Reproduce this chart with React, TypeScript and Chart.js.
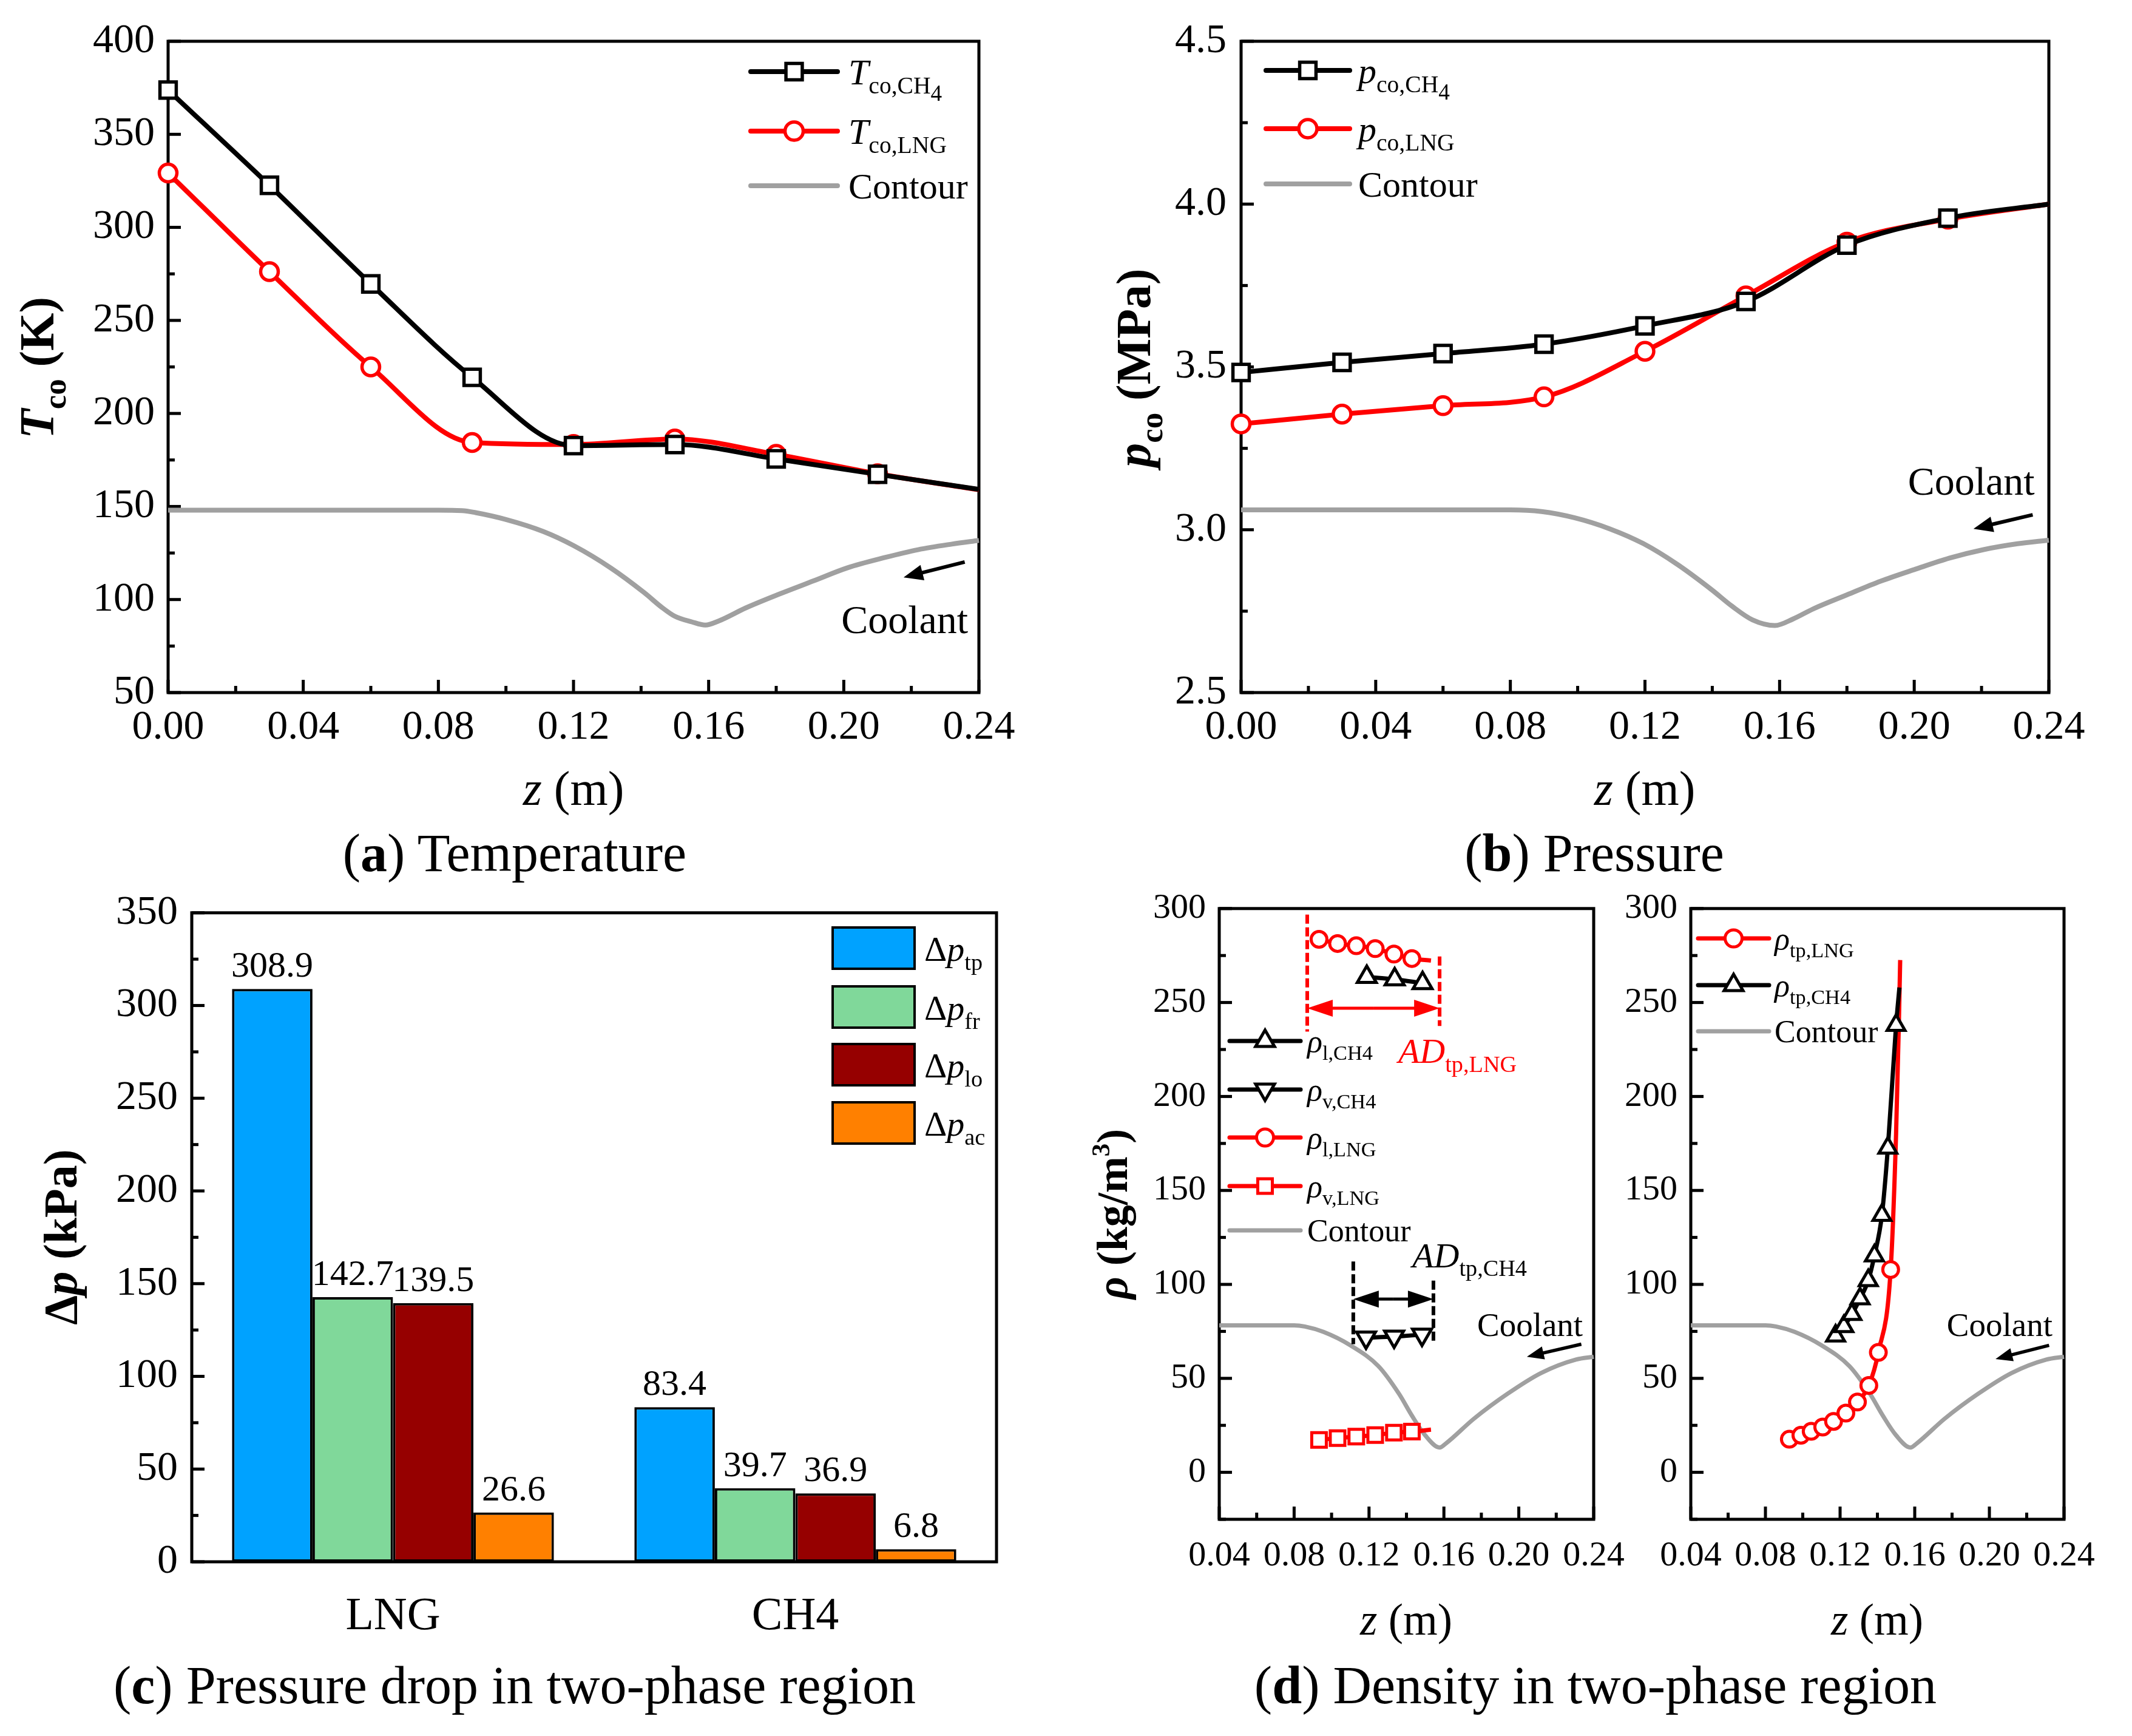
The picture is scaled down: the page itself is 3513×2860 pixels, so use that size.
import React, { useEffect, useRef } from "react";
import { Chart, registerables } from "chart.js";

Chart.register(...registerables);

const SERIF = '"Liberation Serif", "Times New Roman", Times, serif';
const GRAY = "#A0A0A0";
const RED = "#FF0000";
const BLACK = "#000000";

// ---------------- (a) Temperature ----------------
const zMarkA = [0, 0.03, 0.06, 0.09, 0.12, 0.15, 0.18, 0.21, 0.24];
const markFlagsA = [1, 1, 1, 1, 1, 1, 1, 1, 0];
const tempCH4 = [373.8, 322.6, 269.6, 219.4, 182.7, 183.3, 175.6, 167.3, 159.2];
const tempLNG = [329.2, 276.2, 225.0, 184.4, 183.3, 186.3, 178.0, 167.6, 159.0];
const zContourA = [0, 0.04, 0.08, 0.087, 0.091, 0.1, 0.111, 0.12, 0.131, 0.141, 0.146, 0.15, 0.155, 0.159, 0.163, 0.171, 0.181, 0.191, 0.201, 0.212, 0.222, 0.232, 0.24];
const tempContour = [148, 148, 148, 147.8, 146.7, 143, 136.6, 129, 117, 103.6, 96, 91, 88, 86.3, 88.5, 95.5, 103, 110, 117, 122.5, 126.8, 129.8, 131.8];

// ---------------- (b) Pressure ----------------
const zMarkB = [0, 0.03, 0.06, 0.09, 0.12, 0.15, 0.18, 0.21, 0.24];
const markFlagsB = [1, 1, 1, 1, 1, 1, 1, 1, 0];
const presCH4 = [3.483, 3.514, 3.541, 3.57, 3.626, 3.701, 3.874, 3.957, 4.0];
const presLNG = [3.325, 3.355, 3.381, 3.408, 3.548, 3.718, 3.883, 3.954, 4.0];
const zContourB = [0, 0.04, 0.08, 0.0893, 0.099, 0.1095, 0.1196, 0.1297, 0.1398, 0.1459, 0.152, 0.1586, 0.164, 0.17, 0.18, 0.19, 0.2004, 0.2105, 0.2206, 0.2307, 0.24];
const presContour = [3.061, 3.061, 3.061, 3.056, 3.037, 3.003, 2.957, 2.893, 2.816, 2.765, 2.723, 2.706, 2.726, 2.757, 2.8, 2.842, 2.879, 2.913, 2.939, 2.957, 2.968];

// ---------------- (c) Pressure drop ----------------
const fluids = ["LNG", "CH4"];
const dpTp = [308.9, 83.4];
const dpFr = [142.7, 39.7];
const dpLo = [139.5, 36.9];
const dpAc = [26.6, 6.8];

// ---------------- (d) Density ----------------
const yTicksD = [0, 50, 100, 150, 200, 250, 300];
const zLng = [0.0933, 0.1032, 0.1132, 0.1233, 0.1333, 0.1429, 0.1531];
const lngFlags = [1, 1, 1, 1, 1, 1, 0];
const rhoLiqLNG = [283.6, 281.4, 280.2, 278.7, 275.8, 273.4, 272.3];
const rhoVapLNG = [17.2, 18.2, 19.0, 19.8, 21.1, 21.7, 22.7];
const zCh4Liq = [0.1188, 0.1337, 0.1486];
const rhoLiqCH4 = [263.6, 262.3, 260.3];
const zCh4Vap = [0.1184, 0.1334, 0.1483];
const rhoVapCH4 = [71.7, 72.2, 73.3];
const zContourD = [0.04, 0.06, 0.08, 0.0857, 0.0957, 0.11, 0.125, 0.136, 0.143, 0.15, 0.1577, 0.161, 0.176, 0.194, 0.212, 0.2305, 0.24];
const rhoContour = [78.2, 78.2, 78.2, 77.6, 74.7, 67.6, 56.5, 41.8, 30, 19.7, 13.2, 15.3, 28.5, 41.8, 52.9, 60, 61.5];
const zTpLNG = [0.0928, 0.099, 0.1045, 0.1107, 0.1165, 0.1231, 0.1293, 0.1354, 0.1405, 0.1471, 0.15, 0.1515, 0.1522];
const tpLngFlags = [1, 1, 1, 1, 1, 1, 1, 1, 1, 1, 0, 0, 0];
const rhoTpLNG = [17.6, 19.7, 21.8, 24.1, 27.1, 31.5, 37.4, 46.2, 63.8, 107.9, 180, 239, 272.6];
const zTpCH4 = [0.1176, 0.122, 0.1263, 0.1307, 0.1351, 0.1384, 0.1424, 0.1456, 0.15, 0.1518];
const tpCh4Flags = [1, 1, 1, 1, 1, 1, 1, 1, 1, 0];
const rhoTpCH4 = [72.6, 77.6, 84.1, 92.4, 102.1, 115.3, 136.8, 172.6, 237.9, 258];

// ---------------- rich text helpers ----------------
type Seg = { t: string; i?: boolean; b?: boolean; lv?: number };

function segSize(s: Seg, F: number) {
  if (s.lv === 1) return F * 0.66;
  if (s.lv === 2) return F * 0.62;
  if (s.lv === -1) return F * 0.6;
  return F;
}
function segDy(s: Seg, F: number) {
  if (s.lv === 1) return F * 0.25;
  if (s.lv === 2) return F * 0.45;
  if (s.lv === -1) return -F * 0.4;
  return 0;
}
function setSegFont(ctx: CanvasRenderingContext2D, s: Seg, F: number) {
  ctx.font = `${s.i ? "italic " : ""}${s.b ? "bold " : ""}${segSize(s, F)}px ${SERIF}`;
}
function drawRich(ctx: CanvasRenderingContext2D, segs: Seg[], x: number, y: number, F: number, color: string, align: string = "left") {
  ctx.save();
  ctx.fillStyle = color;
  ctx.textBaseline = "alphabetic";
  ctx.textAlign = "left";
  let w = 0;
  for (const s of segs) {
    setSegFont(ctx, s, F);
    w += ctx.measureText(s.t).width;
  }
  let cx = align === "center" ? x - w / 2 : align === "right" ? x - w : x;
  for (const s of segs) {
    setSegFont(ctx, s, F);
    ctx.fillText(s.t, cx, y + segDy(s, F));
    cx += ctx.measureText(s.t).width;
  }
  ctx.restore();
}
function drawRichRot(ctx: CanvasRenderingContext2D, segs: Seg[], cx: number, cy: number, F: number, color: string) {
  ctx.save();
  ctx.translate(cx, cy);
  ctx.rotate(-Math.PI / 2);
  drawRich(ctx, segs, 0, F * 0.3, F, color, "center");
  ctx.restore();
}

function drawMarker(ctx: CanvasRenderingContext2D, style: string, x: number, y: number, r: number, color: string, rot = 0, bw = 5) {
  ctx.save();
  ctx.beginPath();
  if (style === "rect") {
    const h = r * Math.SQRT1_2;
    ctx.rect(x - h, y - h, 2 * h, 2 * h);
  } else if (style === "circle") {
    ctx.arc(x, y, r, 0, Math.PI * 2);
  } else if (style === "triangle") {
    let a = (rot * Math.PI) / 180;
    for (let k = 0; k < 3; k++) {
      const px = x + Math.sin(a) * r;
      const py = y - Math.cos(a) * r;
      if (k === 0) ctx.moveTo(px, py);
      else ctx.lineTo(px, py);
      a += (2 * Math.PI) / 3;
    }
    ctx.closePath();
  }
  ctx.fillStyle = "#FFFFFF";
  ctx.fill();
  ctx.lineWidth = bw;
  ctx.strokeStyle = color;
  ctx.stroke();
  ctx.restore();
}

function legendLine(ctx: CanvasRenderingContext2D, x1: number, x2: number, y: number, color: string, lw: number, style?: string, r = 0, rot = 0, bw = 5) {
  ctx.save();
  ctx.strokeStyle = color;
  ctx.lineWidth = lw;
  ctx.lineCap = "round";
  ctx.beginPath();
  ctx.moveTo(x1, y);
  ctx.lineTo(x2, y);
  ctx.stroke();
  ctx.restore();
  if (style) drawMarker(ctx, style, (x1 + x2) / 2, y, r, color, rot, bw);
}

function drawArrow(ctx: CanvasRenderingContext2D, x1: number, y1: number, x2: number, y2: number, color: string, lw: number, hl: number, hw: number) {
  const ang = Math.atan2(y2 - y1, x2 - x1);
  const c = Math.cos(ang), s = Math.sin(ang);
  const bx = x2 - hl * c, by = y2 - hl * s;
  ctx.save();
  ctx.strokeStyle = color;
  ctx.fillStyle = color;
  ctx.lineWidth = lw;
  ctx.beginPath();
  ctx.moveTo(x1, y1);
  ctx.lineTo(bx + 2 * c, by + 2 * s);
  ctx.stroke();
  ctx.beginPath();
  ctx.moveTo(x2, y2);
  ctx.lineTo(bx - hw * s, by + hw * c);
  ctx.lineTo(bx + hw * s, by - hw * c);
  ctx.closePath();
  ctx.fill();
  ctx.restore();
}

function dashedV(ctx: CanvasRenderingContext2D, x: number, y1: number, y2: number, color: string) {
  ctx.save();
  ctx.strokeStyle = color;
  ctx.lineWidth = 6;
  ctx.setLineDash([15, 6]);
  ctx.beginPath();
  ctx.moveTo(x, y1);
  ctx.lineTo(x, y2);
  ctx.stroke();
  ctx.restore();
}

// ---------------- frame/ticks ----------------
type TickSpec = { start: number; major: number; minor: number } | null;

function drawFrame(chart: any, xt: TickSpec, yt: TickSpec) {
  const { ctx, chartArea: a } = chart;
  const xs = chart.scales.x, ys = chart.scales.y;
  ctx.save();
  ctx.strokeStyle = BLACK;
  ctx.lineWidth = 5;
  ctx.lineCap = "butt";
  if (xt) {
    const n = Math.round((xs.max - xt.start) / xt.minor);
    for (let k = 0; k <= n; k++) {
      const v = xt.start + k * xt.minor;
      const q = v / xt.major;
      const major = Math.abs(q - Math.round(q)) < 1e-6;
      const px = xs.getPixelForValue(v);
      ctx.beginPath();
      ctx.moveTo(px, a.bottom);
      ctx.lineTo(px, a.bottom - (major ? 21 : 11));
      ctx.stroke();
    }
  }
  if (yt) {
    const n = Math.round((ys.max - yt.start) / yt.minor);
    for (let k = 0; k <= n; k++) {
      const v = yt.start + k * yt.minor;
      const q = v / yt.major;
      const major = Math.abs(q - Math.round(q)) < 1e-6;
      const py = ys.getPixelForValue(v);
      ctx.beginPath();
      ctx.moveTo(a.left, py);
      ctx.lineTo(a.left + (major ? 21 : 11), py);
      ctx.stroke();
    }
  }
  ctx.strokeRect(a.left, a.top, a.right - a.left, a.bottom - a.top);
  ctx.restore();
}

// ---------------- layout ----------------
type Box = { cx: number; cy: number; cw: number; ch: number; L: number; T: number; R: number; B: number };
function pads(b: Box) {
  return { padL: b.L - b.cx, padT: b.T - b.cy, padR: b.cx + b.cw - b.R, padB: b.cy + b.ch - b.B };
}

const BOX_A: Box = { cx: 0, cy: 0, cw: 1756, ch: 1370, L: 277, T: 68, R: 1613, B: 1141 };
const BOX_B: Box = { cx: 1756, cy: 0, cw: 1757, ch: 1370, L: 2045, T: 68, R: 3376, B: 1141 };
const BOX_C: Box = { cx: 0, cy: 1440, cw: 1756, ch: 1290, L: 316, T: 1503, R: 1642, B: 2573 };
const BOX_DL: Box = { cx: 1756, cy: 1440, cw: 964, ch: 1290, L: 2009, T: 1495, R: 2626, B: 2503 };
const BOX_DR: Box = { cx: 2640, cy: 1440, cw: 873, ch: 1290, L: 2786, T: 1495, R: 3401, B: 2503 };

type AxisCfg = { min: number; max: number; step: number; dec: number; font: number; pad: number; list?: number[] };

function linAxis(cfg: AxisCfg, size: number, horizontal: boolean) {
  const ax: any = {
    type: "linear",
    min: cfg.min,
    max: cfg.max,
    ticks: {
      stepSize: cfg.step,
      autoSkip: false,
      maxRotation: 0,
      minRotation: 0,
      color: BLACK,
      font: { family: SERIF, size: cfg.font },
      padding: cfg.pad,
      callback: (v: any) => Number(v).toFixed(cfg.dec),
    },
    grid: { display: false, drawTicks: false },
    border: { display: false },
    afterFit: (s: any) => {
      if (horizontal) s.height = size;
      else s.width = size;
    },
  };
  if (cfg.list) {
    const list = cfg.list;
    ax.afterBuildTicks = (s: any) => {
      s.ticks = list.map((v) => ({ value: v }));
    };
  }
  return ax;
}

function pts(xs: number[], ys: number[]) {
  return xs.map((x, i) => ({ x, y: ys[i] }));
}

function markerLine(xs: number[], ys: number[], color: string, style: string, r: number, lw: number, bw: number, flags: number[] | null, rot = 0, order = 0) {
  return {
    data: pts(xs, ys),
    borderColor: color,
    borderWidth: lw,
    borderJoinStyle: "round",
    pointStyle: style,
    pointRotation: rot,
    pointRadius: xs.map((_, i) => (flags ? flags[i] : 1) ? r : 0),
    pointHoverRadius: 0,
    pointBorderWidth: bw,
    pointBorderColor: color,
    pointBackgroundColor: "#FFFFFF",
    cubicInterpolationMode: "monotone",
    clip: false,
    fill: false,
    order,
  };
}

function contourLine(xs: number[], ys: number[], lw: number) {
  return {
    data: pts(xs, ys),
    borderColor: GRAY,
    borderWidth: lw,
    pointRadius: 0,
    pointHoverRadius: 0,
    cubicInterpolationMode: "monotone",
    clip: false,
    fill: false,
    order: 10,
  };
}

function lineConfig(box: Box, datasets: any[], xc: AxisCfg, yc: AxisCfg, xt: TickSpec, yt: TickSpec, decor: (c: any) => void) {
  const p = pads(box);
  return {
    type: "line",
    data: { datasets },
    options: {
      responsive: false,
      animation: false,
      devicePixelRatio: 1,
      events: [],
      layout: { padding: { left: 0, top: p.padT, right: p.padR, bottom: 0 } },
      plugins: { legend: { display: false }, tooltip: { enabled: false } },
      scales: { x: linAxis(xc, p.padB, true), y: linAxis(yc, p.padL, false) },
    },
    plugins: [
      { id: "frame", beforeDatasetsDraw: (c: any) => drawFrame(c, xt, yt) },
      { id: "decor", afterDraw: (c: any) => decor(c) },
    ],
  };
}

// ---------------- decor per panel ----------------
const LW_AB = 8;
const BW_AB = 5.5;
const LW_D = 7;
const BW_D = 5;

function decorA(chart: any) {
  const ctx: CanvasRenderingContext2D = chart.ctx;
  const xs = chart.scales.x, ys = chart.scales.y;
  drawRich(ctx, [{ t: "Coolant" }], xs.getPixelForValue(0.2368), ys.getPixelForValue(89) + 22, 66, BLACK, "right");
  drawArrow(ctx, xs.getPixelForValue(0.2358), ys.getPixelForValue(120.2), xs.getPixelForValue(0.2177), ys.getPixelForValue(111.9), BLACK, 6, 32, 13);
  ctx.save();
  ctx.translate(-BOX_A.cx, -BOX_A.cy);
  drawRich(ctx, [{ t: "z", i: true }, { t: " (m)" }], 945, 1326, 80, BLACK, "center");
  drawRichRot(ctx, [{ t: "T", i: true, b: true }, { t: "co", b: true, lv: 1 }, { t: " (K)", b: true }], 64, 606, 80, BLACK);
  const x1 = 1237, x2 = 1380, tx = 1398, F = 60;
  legendLine(ctx, x1, x2, 118, BLACK, LW_AB, "rect", 19, 0, BW_AB);
  drawRich(ctx, [{ t: "T", i: true }, { t: "co,CH", lv: 1 }, { t: "4", lv: 2 }], tx, 118 + 21, F, BLACK);
  legendLine(ctx, x1, x2, 216, RED, LW_AB, "circle", 15, 0, BW_AB);
  drawRich(ctx, [{ t: "T", i: true }, { t: "co,LNG", lv: 1 }], tx, 216 + 21, F, BLACK);
  legendLine(ctx, x1, x2, 306, GRAY, LW_AB);
  drawRich(ctx, [{ t: "Contour" }], tx, 306 + 21, F, BLACK);
  ctx.restore();
}

function decorB(chart: any) {
  const ctx: CanvasRenderingContext2D = chart.ctx;
  const xs = chart.scales.x, ys = chart.scales.y;
  drawRich(ctx, [{ t: "Coolant" }], xs.getPixelForValue(0.2358), ys.getPixelForValue(3.148) + 22, 66, BLACK, "right");
  drawArrow(ctx, xs.getPixelForValue(0.2352), ys.getPixelForValue(3.046), xs.getPixelForValue(0.2176), ys.getPixelForValue(3.003), BLACK, 6, 32, 13);
  ctx.save();
  ctx.translate(-BOX_B.cx, -BOX_B.cy);
  drawRich(ctx, [{ t: "z", i: true }, { t: " (m)" }], 2710, 1326, 80, BLACK, "center");
  drawRichRot(ctx, [{ t: "p", i: true, b: true }, { t: "co", b: true, lv: 1 }, { t: " (MPa)", b: true }], 1871, 606, 80, BLACK);
  const x1 = 2086, x2 = 2224, tx = 2238, F = 60;
  legendLine(ctx, x1, x2, 116, BLACK, LW_AB, "rect", 19, 0, BW_AB);
  drawRich(ctx, [{ t: "p", i: true }, { t: "co,CH", lv: 1 }, { t: "4", lv: 2 }], tx, 116 + 21, F, BLACK);
  legendLine(ctx, x1, x2, 212, RED, LW_AB, "circle", 15, 0, BW_AB);
  drawRich(ctx, [{ t: "p", i: true }, { t: "co,LNG", lv: 1 }], tx, 212 + 21, F, BLACK);
  legendLine(ctx, x1, x2, 303, GRAY, LW_AB);
  drawRich(ctx, [{ t: "Contour" }], tx, 303 + 21, F, BLACK);
  ctx.restore();
}

const BAR_COLORS = ["#00A2FF", "#80D89A", "#960000", "#FF8000"];
const BAR_SUBS = ["tp", "fr", "lo", "ac"];

function decorC(chart: any) {
  const ctx: CanvasRenderingContext2D = chart.ctx;
  chart.data.datasets.forEach((ds: any, i: number) => {
    const meta = chart.getDatasetMeta(i);
    meta.data.forEach((el: any, j: number) => {
      drawRich(ctx, [{ t: Number(ds.data[j]).toFixed(1) }], el.x, el.y - 20, 60, BLACK, "center");
    });
  });
  ctx.save();
  ctx.translate(-BOX_C.cx, -BOX_C.cy);
  drawRichRot(ctx, [{ t: "Δ", b: true }, { t: "p", i: true, b: true }, { t: " (kPa)", b: true }], 103, 2038, 78, BLACK);
  const rows = [1528, 1625, 1720, 1816];
  rows.forEach((top, k) => {
    ctx.fillStyle = BAR_COLORS[k];
    ctx.fillRect(1372, top, 135, 68);
    ctx.lineWidth = 4;
    ctx.strokeStyle = BLACK;
    ctx.strokeRect(1372, top, 135, 68);
    drawRich(ctx, [{ t: "Δ" }, { t: "p", i: true }, { t: BAR_SUBS[k], lv: 1 }], 1523, top + 34 + 21, 58, BLACK);
  });
  ctx.restore();
}

function decorDL(chart: any) {
  const ctx: CanvasRenderingContext2D = chart.ctx;
  const xs = chart.scales.x, ys = chart.scales.y;
  const X = (v: number) => xs.getPixelForValue(v);
  const Y = (v: number) => ys.getPixelForValue(v);
  dashedV(ctx, X(0.087), Y(296.8), Y(234.5), RED);
  dashedV(ctx, X(0.1577), Y(274.5), Y(237.5), RED);
  drawArrow(ctx, (X(0.087) + X(0.1577)) / 2, Y(247), X(0.087), Y(247), RED, 5, 42, 14);
  drawArrow(ctx, (X(0.087) + X(0.1577)) / 2, Y(247), X(0.1577), Y(247), RED, 5, 42, 14);
  drawRich(ctx, [{ t: "AD", i: true }, { t: "tp,LNG", lv: 1 }], X(0.1356), Y(217.8), 58, RED);
  dashedV(ctx, X(0.1116), Y(112.2), Y(68.2), BLACK);
  dashedV(ctx, X(0.1544), Y(102), Y(68.2), BLACK);
  drawArrow(ctx, (X(0.1116) + X(0.1544)) / 2, Y(92.2), X(0.1116), Y(92.2), BLACK, 5, 42, 14);
  drawArrow(ctx, (X(0.1116) + X(0.1544)) / 2, Y(92.2), X(0.1544), Y(92.2), BLACK, 5, 42, 14);
  drawRich(ctx, [{ t: "AD", i: true }, { t: "tp,CH4", lv: 1 }], X(0.1431), Y(109.1), 58, BLACK);
  drawRich(ctx, [{ t: "Coolant" }], X(0.2342), Y(78.5) + 18, 55, BLACK, "right");
  drawArrow(ctx, X(0.2334), Y(68.2), X(0.2043), Y(61.5), BLACK, 5.5, 28, 11);
  ctx.save();
  ctx.translate(-BOX_DL.cx, -BOX_DL.cy);
  drawRich(ctx, [{ t: "z", i: true }, { t: " (m)" }], 2317, 2693, 73, BLACK, "center");
  drawRichRot(ctx, [{ t: "ρ", i: true, b: true }, { t: " (kg/m", b: true }, { t: "3", b: true, lv: -1 }, { t: ")", b: true }], 1835, 2000, 72, BLACK);
  const x1 = 2026, x2 = 2143, tx = 2154, F = 52;
  const dy = 18;
  legendLine(ctx, x1, x2, 1715, BLACK, LW_D, "triangle", 18, 0, BW_D);
  drawRich(ctx, [{ t: "ρ", i: true }, { t: "l,CH4", lv: 1 }], tx, 1715 + dy, F, BLACK);
  legendLine(ctx, x1, x2, 1795, BLACK, LW_D, "triangle", 18, 180, BW_D);
  drawRich(ctx, [{ t: "ρ", i: true }, { t: "v,CH4", lv: 1 }], tx, 1795 + dy, F, BLACK);
  legendLine(ctx, x1, x2, 1874, RED, LW_D, "circle", 14, 0, BW_D);
  drawRich(ctx, [{ t: "ρ", i: true }, { t: "l,LNG", lv: 1 }], tx, 1874 + dy, F, BLACK);
  legendLine(ctx, x1, x2, 1954, RED, LW_D, "rect", 17, 0, BW_D);
  drawRich(ctx, [{ t: "ρ", i: true }, { t: "v,LNG", lv: 1 }], tx, 1954 + dy, F, BLACK);
  legendLine(ctx, x1, x2, 2027, GRAY, LW_D);
  drawRich(ctx, [{ t: "Contour" }], tx, 2027 + dy, F, BLACK);
  ctx.restore();
}

function decorDR(chart: any) {
  const ctx: CanvasRenderingContext2D = chart.ctx;
  const xs = chart.scales.x, ys = chart.scales.y;
  const X = (v: number) => xs.getPixelForValue(v);
  const Y = (v: number) => ys.getPixelForValue(v);
  drawRich(ctx, [{ t: "Coolant" }], X(0.2338), Y(78.5) + 18, 55, BLACK, "right");
  drawArrow(ctx, X(0.232), Y(67.6), X(0.2033), Y(60.3), BLACK, 5.5, 28, 11);
  ctx.save();
  ctx.translate(-BOX_DR.cx, -BOX_DR.cy);
  drawRich(ctx, [{ t: "z", i: true }, { t: " (m)" }], 3093, 2693, 73, BLACK, "center");
  const x1 = 2798, x2 = 2915, tx = 2924, F = 52, dy = 18;
  legendLine(ctx, x1, x2, 1546, RED, LW_D, "circle", 14, 0, BW_D);
  drawRich(ctx, [{ t: "ρ", i: true }, { t: "tp,LNG", lv: 1 }], tx, 1546 + dy, F, BLACK);
  legendLine(ctx, x1, x2, 1623, BLACK, LW_D, "triangle", 18, 0, BW_D);
  drawRich(ctx, [{ t: "ρ", i: true }, { t: "tp,CH4", lv: 1 }], tx, 1623 + dy, F, BLACK);
  legendLine(ctx, x1, x2, 1699, GRAY, LW_D);
  drawRich(ctx, [{ t: "Contour" }], tx, 1699 + dy, F, BLACK);
  ctx.restore();
}

// ---------------- configs ----------------
const X_AB: AxisCfg = { min: 0, max: 0.24, step: 0.04, dec: 2, font: 68, pad: 17 };
const X_D: AxisCfg = { min: 0.04, max: 0.24, step: 0.04, dec: 2, font: 58, pad: 26 };
const Y_D: AxisCfg = { min: -25, max: 300, step: 50, dec: 0, font: 58, pad: 22, list: yTicksD };

function configA() {
  return lineConfig(
    BOX_A,
    [
      markerLine(zMarkA, tempCH4, BLACK, "rect", 19, LW_AB, BW_AB, markFlagsA, 0, 0),
      markerLine(zMarkA, tempLNG, RED, "circle", 14.5, LW_AB, BW_AB, markFlagsA, 0, 1),
      contourLine(zContourA, tempContour, LW_AB),
    ],
    X_AB,
    { min: 50, max: 400, step: 50, dec: 0, font: 68, pad: 22 },
    { start: 0, major: 0.04, minor: 0.02 },
    { start: 50, major: 50, minor: 25 },
    decorA
  );
}

function configB() {
  return lineConfig(
    BOX_B,
    [
      markerLine(zMarkB, presCH4, BLACK, "rect", 19, LW_AB, BW_AB, markFlagsB, 0, 0),
      markerLine(zMarkB, presLNG, RED, "circle", 14.5, LW_AB, BW_AB, markFlagsB, 0, 1),
      contourLine(zContourB, presContour, LW_AB),
    ],
    X_AB,
    { min: 2.5, max: 4.5, step: 0.5, dec: 1, font: 68, pad: 24 },
    { start: 0, major: 0.04, minor: 0.02 },
    { start: 2.5, major: 0.5, minor: 0.25 },
    decorB
  );
}

function configDL() {
  return lineConfig(
    BOX_DL,
    [
      markerLine(zCh4Liq, rhoLiqCH4, BLACK, "triangle", 18, LW_D, BW_D, null, 0, 0),
      markerLine(zCh4Vap, rhoVapCH4, BLACK, "triangle", 18, LW_D, BW_D, null, 180, 1),
      markerLine(zLng, rhoLiqLNG, RED, "circle", 13, LW_D, BW_D, lngFlags, 0, 2),
      markerLine(zLng, rhoVapLNG, RED, "rect", 17, LW_D, BW_D, lngFlags, 0, 3),
      contourLine(zContourD, rhoContour, LW_D),
    ],
    X_D,
    Y_D,
    { start: 0.04, major: 0.04, minor: 0.02 },
    { start: -25, major: 50, minor: 25 },
    decorDL
  );
}

function configDR() {
  return lineConfig(
    BOX_DR,
    [
      markerLine(zTpCH4, rhoTpCH4, BLACK, "triangle", 17, LW_D, BW_D, tpCh4Flags, 0, 0),
      markerLine(zTpLNG, rhoTpLNG, RED, "circle", 13, LW_D, BW_D, tpLngFlags, 0, 1),
      contourLine(zContourD, rhoContour, LW_D),
    ],
    X_D,
    Y_D,
    { start: 0.04, major: 0.04, minor: 0.02 },
    { start: -25, major: 50, minor: 25 },
    decorDR
  );
}

function configC() {
  const p = pads(BOX_C);
  const series = [dpTp, dpFr, dpLo, dpAc];
  return {
    type: "bar",
    data: {
      labels: fluids,
      datasets: series.map((d, k) => ({
        data: d,
        backgroundColor: BAR_COLORS[k],
        borderColor: BLACK,
        borderWidth: 4,
        borderSkipped: false,
        categoryPercentage: 0.8,
        barPercentage: 1.0,
      })),
    },
    options: {
      responsive: false,
      animation: false,
      devicePixelRatio: 1,
      events: [],
      layout: { padding: { left: 0, top: p.padT, right: p.padR, bottom: 0 } },
      plugins: { legend: { display: false }, tooltip: { enabled: false } },
      scales: {
        x: {
          type: "category",
          ticks: { color: BLACK, font: { family: SERIF, size: 76 }, padding: 45, maxRotation: 0, minRotation: 0 },
          grid: { display: false, drawTicks: false },
          border: { display: false },
          afterFit: (s: any) => {
            s.height = p.padB;
          },
        },
        y: linAxis({ min: 0, max: 350, step: 50, dec: 0, font: 68, pad: 23 }, p.padL, false),
      },
    },
    plugins: [
      { id: "frame", beforeDatasetsDraw: (c: any) => drawFrame(c, null, { start: 0, major: 50, minor: 25 }) },
      { id: "decor", afterDraw: (c: any) => decorC(c) },
    ],
  };
}

function ChartCanvas({ box, make }: { box: Box; make: () => any }) {
  const ref = useRef<HTMLCanvasElement>(null);
  useEffect(() => {
    const chart = new Chart(ref.current as HTMLCanvasElement, make() as any);
    return () => chart.destroy();
  }, []);
  return (
    <canvas
      ref={ref}
      width={box.cw}
      height={box.ch}
      style={{ position: "absolute", left: box.cx, top: box.cy, width: box.cw, height: box.ch }}
    />
  );
}

function Caption({ cx, top, letter, text }: { cx: number; top: number; letter: string; text: string }) {
  return (
    <div
      style={{
        position: "absolute",
        left: cx - 900,
        width: 1800,
        top,
        textAlign: "center",
        fontFamily: SERIF,
        fontSize: 88,
        lineHeight: "88px",
        whiteSpace: "nowrap",
        color: BLACK,
      }}
    >
      (<b>{letter}</b>) {text}
    </div>
  );
}

export default function App() {
  return (
    <div style={{ position: "absolute", left: 0, top: 0, width: 3513, height: 2860, background: "#FFFFFF", overflow: "hidden" }}>
      <ChartCanvas box={BOX_A} make={configA} />
      <ChartCanvas box={BOX_B} make={configB} />
      <ChartCanvas box={BOX_C} make={configC} />
      <ChartCanvas box={BOX_DL} make={configDL} />
      <ChartCanvas box={BOX_DR} make={configDR} />
      <Caption cx={848} top={1362} letter="a" text="Temperature" />
      <Caption cx={2627} top={1362} letter="b" text="Pressure" />
      <Caption cx={848} top={2733} letter="c" text="Pressure drop in two-phase region" />
      <Caption cx={2629} top={2733} letter="d" text="Density in two-phase region" />
    </div>
  );
}
